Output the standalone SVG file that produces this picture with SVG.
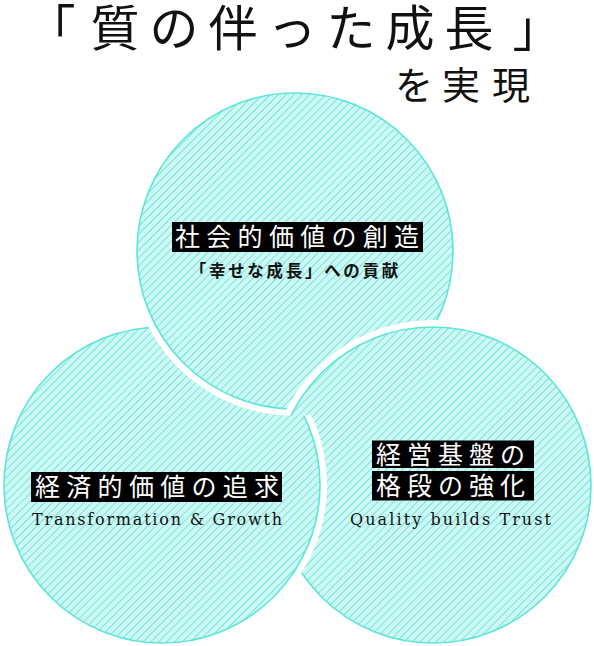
<svg xmlns="http://www.w3.org/2000/svg" xmlns:xlink="http://www.w3.org/1999/xlink" width="594" height="646" viewBox="0 0 594 646">
<style>
.band{fill:none;stroke:#ffffff;stroke-width:14}
.disc{fill:url(#hatch);stroke:#5fe5d8;stroke-width:1.6}
.jp{font-family:"Noto Sans CJK JP","Noto Sans CJK SC",sans-serif;text-anchor:middle}
.title{font-size:49px;fill:#111}
.sub{font-size:38px;fill:#111}
.lab{font-size:25px;fill:#ffffff}
.small{font-size:16.5px;font-weight:bold;fill:#111}
.en{font-family:"DejaVu Serif","Liberation Serif",serif;font-size:16px;fill:#111}
.box{fill:#000}
</style>
<defs>
<pattern id="hatch" patternUnits="userSpaceOnUse" width="5.6" height="5.6" patternTransform="rotate(45)">
<rect width="5.6" height="5.6" fill="#cdf8f4"/>
<rect width="0.85" height="5.6" fill="#62e5d8"/>
</pattern>
<circle id="cT" cx="295" cy="251" r="158"/>
<circle id="cL" cx="162" cy="485" r="158"/>
<circle id="cR" cx="433" cy="485" r="158"/>
<clipPath id="notT">
<path clip-rule="evenodd" d="M0 0H594V646H0Z M130 251A165 165 0 1 0 460 251A165 165 0 1 0 130 251Z"/>
</clipPath>
</defs>
<rect width="594" height="646" fill="#ffffff"/>
<g id="heading">
<text class="jp title" x="51 115 174 233 292 351 410 469 537" y="46">「質の伴った成長」</text>
<text class="jp sub" x="414 461 511" y="99">を実現</text>
</g>
<g id="node-social">
<use xlink:href="#cT" class="band"/>
<use xlink:href="#cT" class="disc"/>
<rect class="box" x="172" y="222" width="251" height="30"/>
<text class="jp lab" x="187.5 218.8 250.1 281.4 312.7 344 375.3 406.6" y="246">社会的価値の創造</text>
<text class="jp small" x="198 217.2 236.4 255.6 274.8 294 313.2 332.4 351.6 370.8 390" y="277">「幸せな成長」への貢献</text>
</g>
<g id="node-management">
<use xlink:href="#cR" class="band"/>
<use xlink:href="#cR" class="disc"/>
<rect class="box" x="372" y="440.5" width="162" height="27.5"/>
<rect class="box" x="372" y="471" width="162" height="29.5"/>
<text class="jp lab" x="388.5 419.5 450.5 481.5 512.5" y="464">経営基盤の</text>
<text class="jp lab" x="388.5 419.5 450.5 481.5 512.5" y="495">格段の強化</text>
<text class="en" x="350" y="525" textLength="201" lengthAdjust="spacing">Quality builds Trust</text>
</g>
<g id="node-economic">
<g clip-path="url(#notT)">
<use xlink:href="#cL" class="band"/>
<use xlink:href="#cL" class="disc"/>
</g>
<rect class="box" x="31" y="472" width="251" height="30"/>
<text class="jp lab" x="47.5 78.8 110.1 141.4 172.7 204 235.3 266.6" y="496">経済的価値の追求</text>
<text class="en" x="32" y="525" textLength="250" lengthAdjust="spacing">Transformation &amp; Growth</text>
</g>
<g id="connectors"/>
</svg>
